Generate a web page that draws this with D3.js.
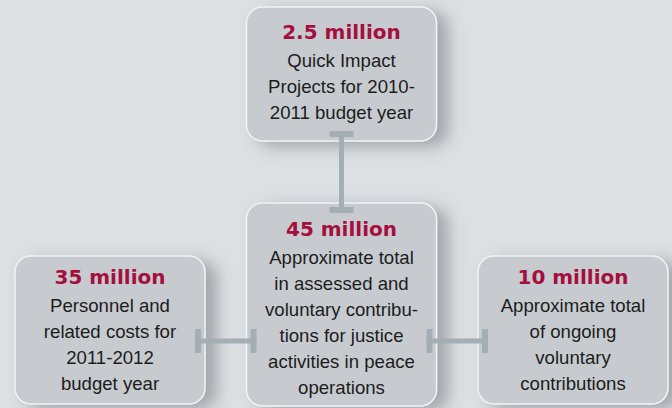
<!DOCTYPE html>
<html>
<head>
<meta charset="utf-8">
<script src="https://cdn.jsdelivr.net/npm/d3@7"></script>
<style>
  html, body { margin: 0; padding: 0; background: #dce0e2; }
  svg { display: block; }
</style>
</head>
<body>
<svg id="chart"></svg>
<script>
// figures, in millions of dollars
var nodes = ["top", "left", "middle", "right"];
var amounts = [2.5, 35, 45, 10];
var captions = [
  ["Quick Impact", "Projects for 2010-", "2011 budget year"],
  ["Personnel and", "related costs for", "2011-2012", "budget year"],
  ["Approximate total", "in assessed and", "voluntary contribu-", "tions for justice", "activities in peace", "operations"],
  ["Approximate total", "of ongoing", "voluntary", "contributions"]
];
var links = [["top", "middle"], ["left", "middle"], ["middle", "right"]];

var width = 672, height = 408;
var boxW = 190, radius = 16;
var lineH = 26;

var svg = d3.select("#chart").attr("width", width).attr("height", height);

// bottom row spread across the width, top box sits over the middle
var xScale = d3.scalePoint().domain(["left", "middle", "right"]).range([110, 573]);

var layout = {
  top:    { cx: xScale("middle"), y: 7,   h: 134, pad: 32 },
  left:   { cx: xScale("left"),   y: 256, h: 148, pad: 28 },
  middle: { cx: xScale("middle"), y: 203, h: 203, pad: 33 },
  right:  { cx: xScale("right"),  y: 256, h: 148, pad: 28 }
};

var data = nodes.map(function(n, i) {
  var l = layout[n];
  return { id: n, amount: amounts[i], lines: captions[i],
           x: l.cx - boxW / 2, y: l.y, w: boxW, h: l.h, pad: l.pad, cx: l.cx };
});
var byId = {};
data.forEach(function(d) { byId[d.id] = d; });

var defs = svg.append("defs");
var f = defs.append("filter").attr("id", "shadow")
  .attr("x", "-20%").attr("y", "-20%").attr("width", "160%").attr("height", "150%");
f.append("feDropShadow").attr("dx", 11).attr("dy", 5).attr("stdDeviation", 8)
  .attr("flood-color", "#656c71").attr("flood-opacity", 0.5);

// boxes
var g = svg.selectAll("g.node").data(data).enter().append("g").attr("class", "node");

g.append("rect")
  .attr("x", function(d) { return d.x; })
  .attr("y", function(d) { return d.y; })
  .attr("width", function(d) { return d.w; })
  .attr("height", function(d) { return d.h; })
  .attr("rx", radius).attr("ry", radius)
  .attr("fill", "#c7cbcf")
  .attr("stroke", "#f1f3f4")
  .attr("stroke-width", 1.5)
  .attr("filter", "url(#shadow)");

g.append("text")
  .attr("x", function(d) { return d.cx; })
  .attr("y", function(d) { return d.y + d.pad; })
  .attr("text-anchor", "middle")
  .attr("font-family", "DejaVu Sans")
  .attr("font-weight", "bold")
  .attr("font-size", 20)
  .attr("fill", "#a50f3d")
  .text(function(d) { return d.amount + " million"; });

g.each(function(d) {
  d3.select(this).selectAll("text.cap").data(d.lines).enter().append("text")
    .attr("class", "cap")
    .attr("x", d.cx)
    .attr("y", function(t, i) { return d.y + d.pad + 28 + i * lineH; })
    .attr("text-anchor", "middle")
    .attr("font-family", "Liberation Sans")
    .attr("font-size", 18.6)
    .attr("fill", "#1c1c1c")
    .text(function(t) { return t; });
});

// connectors with end caps, drawn over the box edges
var overlap = 10, bar = 5, cap = 24;
var conn = svg.append("g").attr("fill", "#a4aeb5");
links.forEach(function(l) {
  var a = byId[l[0]], b = byId[l[1]];
  if (l[0] === "top") {
    var y0 = a.y + a.h - overlap, y1 = b.y + overlap, x = a.cx;
    conn.append("rect").attr("x", x - bar / 2).attr("y", y0).attr("width", bar).attr("height", y1 - y0);
    conn.append("rect").attr("x", x - cap / 2).attr("y", y0).attr("width", cap).attr("height", bar + 1);
    conn.append("rect").attr("x", x - cap / 2).attr("y", y1 - bar - 1).attr("width", cap).attr("height", bar + 1);
  } else {
    var x0 = a.x + a.w - overlap, x1 = b.x + overlap, y = 341;
    conn.append("rect").attr("x", x0).attr("y", y - bar / 2).attr("width", x1 - x0).attr("height", bar);
    conn.append("rect").attr("x", x0).attr("y", y - cap / 2).attr("width", bar + 1).attr("height", cap);
    conn.append("rect").attr("x", x1 - bar - 1).attr("y", y - cap / 2).attr("width", bar + 1).attr("height", cap);
  }
});
</script>
</body>
</html>
